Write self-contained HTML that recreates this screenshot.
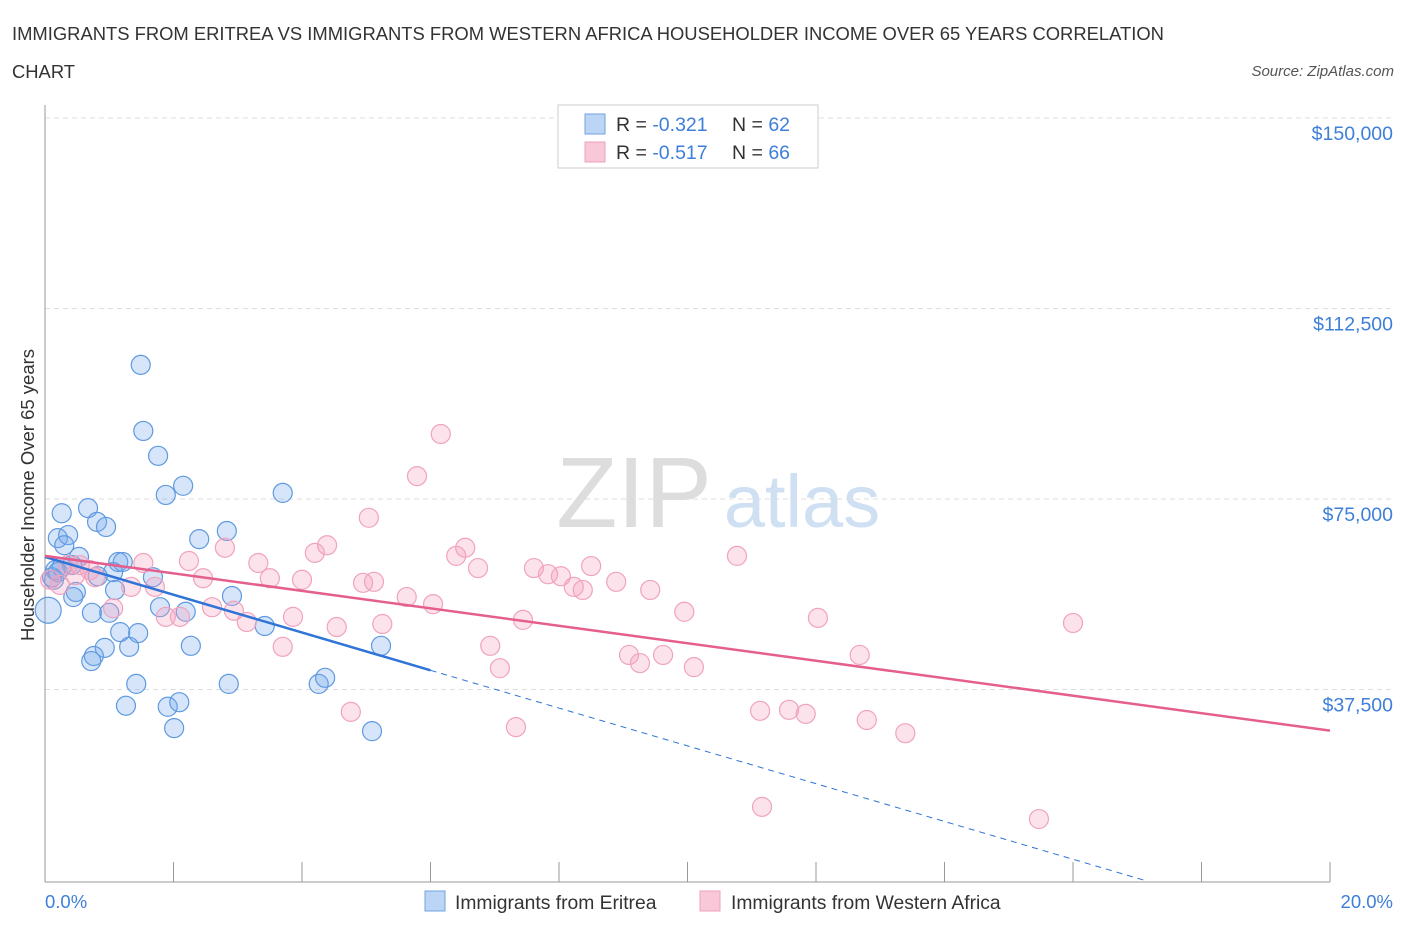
<!DOCTYPE html>
<html><head><meta charset="utf-8"><style>
body{margin:0;background:#fff;font-family:"Liberation Sans",sans-serif;}
svg text{font-family:"Liberation Sans",sans-serif;}
</style></head><body>
<svg id="chart" width="1406" height="930" xmlns="http://www.w3.org/2000/svg">
<text x="12" y="40" font-size="18.4" fill="#333">IMMIGRANTS FROM ERITREA VS IMMIGRANTS FROM WESTERN AFRICA HOUSEHOLDER INCOME OVER 65 YEARS CORRELATION</text>
<text x="12" y="78" font-size="18.4" fill="#333">CHART</text>
<text x="1394" y="76" font-size="15" fill="#555" font-style="italic" text-anchor="end">Source: ZipAtlas.com</text>
<text x="634" y="527" font-size="100" fill="#ddd" font-family="Liberation Serif" text-anchor="middle">ZIP</text>
<text x="802" y="527" font-size="74" fill="#cfe0f3" text-anchor="middle">atlas</text>
<text transform="translate(34,495) rotate(-90)" font-size="18.5" fill="#333" text-anchor="middle">Householder Income Over 65 years</text>
<g id="grid"></g><g id="axes"></g><g id="pts"></g><g id="lines"></g>
<rect x="558" y="105" width="260" height="63" fill="#fff" stroke="#ccc"/>
<rect x="585" y="114" width="20" height="20" fill="#bcd5f5" stroke="#6fa3e0"/>
<rect x="585" y="142" width="20" height="20" fill="#f9c8d8" stroke="#eea0ba"/>
<text x="616" y="131" font-size="19.5" fill="#333">R = <tspan fill="#3d7fd9">-0.321</tspan></text>
<text x="732" y="131" font-size="19.5" fill="#333">N = <tspan fill="#3d7fd9">62</tspan></text>
<text x="616" y="159" font-size="19.5" fill="#333">R = <tspan fill="#3d7fd9">-0.517</tspan></text>
<text x="732" y="159" font-size="19.5" fill="#333">N = <tspan fill="#3d7fd9">66</tspan></text>
<text x="45" y="908" font-size="18.5" fill="#3d7fd9">0.0%</text>
<text x="1393" y="908" font-size="18.5" fill="#3d7fd9" text-anchor="end">20.0%</text>
<rect x="425" y="891" width="20" height="20" fill="#bcd5f5" stroke="#6fa3e0"/>
<text x="455" y="909" font-size="19.3" fill="#333">Immigrants from Eritrea</text>
<rect x="700" y="891" width="20" height="20" fill="#f9c8d8" stroke="#eea0ba"/>
<text x="731" y="909" font-size="19.3" fill="#333">Immigrants from Western Africa</text>
</svg>
<script>
const yTicks=[37500,75000,112500,150000];
const yTickLabels=["$37,500","$75,000","$112,500","$150,000"];
const xTicks=[0,2,4,6,8,10,12,14,16,18,20];
const eritreaX=[1.49,1.53,1.76,1.88,2.15,3.70,0.26,0.67,0.81,0.95,2.83,2.40,0.20,0.36,0.30,0.53,1.14,1.21,1.06,0.42,0.16,0.11,0.82,1.68,1.09,0.48,0.44,2.91,1.79,2.19,0.73,1.00,0.05,1.17,1.45,3.42,1.31,0.93,2.27,5.23,0.76,0.72,1.42,2.86,4.26,4.36,1.26,1.91,2.09,2.01,5.09,0.14,0.20,0.26];
const eritreaY=[101.4,88.4,83.5,75.8,77.6,76.2,72.2,73.2,70.5,69.5,68.7,67.1,67.3,67.9,65.9,63.6,62.6,62.6,60.6,62.0,61.0,59.6,59.8,59.6,57.1,56.7,55.7,55.9,53.7,52.8,52.6,52.6,53.1,48.8,48.6,50.0,45.9,45.7,46.1,46.1,44.1,43.1,38.6,38.6,38.6,39.8,34.3,34.1,35.0,29.9,29.3,59.1,60.6,61.6];
const waX=[6.16,5.79,5.04,4.39,4.20,6.54,6.40,10.77,6.74,7.61,7.83,8.03,8.50,8.23,8.37,8.89,9.42,1.53,2.24,2.80,3.32,2.46,3.50,4.00,4.95,5.12,5.63,6.04,0.36,0.54,0.78,1.34,1.71,1.06,2.60,3.86,2.94,3.14,1.88,2.10,4.54,5.25,7.44,9.95,12.03,16.0,6.93,7.08,3.70,9.09,9.62,9.26,10.10,12.68,4.76,7.33,11.13,11.58,11.84,12.79,13.39,11.16,15.47,0.23,0.47,0.70,0.08];
const waY=[87.8,79.5,71.3,65.9,64.4,65.4,63.8,63.8,61.4,61.4,60.2,59.8,61.8,57.7,57.1,58.7,57.1,62.4,62.8,65.4,62.4,59.4,59.4,59.1,58.5,58.7,55.7,54.3,62.0,62.0,59.6,57.7,57.7,53.5,53.7,51.8,53.0,50.8,51.8,51.8,49.8,50.4,51.2,52.8,51.6,50.6,46.1,41.7,45.9,44.3,44.3,42.7,41.9,44.3,33.1,30.1,33.3,33.5,32.7,31.5,28.9,14.4,12.0,58.1,60.0,61.0,59.1];
const eritreaTrend=[63.6,-3.72];
const waTrend=[63.8,-1.72];
const NS="http://www.w3.org/2000/svg";
const sx=v=>45+v*64.25;
const sy=v=>880-v*1000/196.85;
function mk(tag,attrs,parent){const e=document.createElementNS(NS,tag);for(const k in attrs)e.setAttribute(k,attrs[k]);document.getElementById(parent).appendChild(e);return e;}
yTicks.forEach((t,i)=>{
 const l=mk('line',{x1:45,x2:1394,y1:sy(t/1000),y2:sy(t/1000),stroke:'#ddd','stroke-dasharray':'5,4'},'grid');
 
 
 const tx=mk('text',{x:1393,y:sy(t/1000)+22,'font-size':19.5,fill:'#3d7fd9','text-anchor':'end'},'grid');
 tx.textContent=yTickLabels[i];
 
 
});
const ax=mk('line',{x1:45,x2:45,y1:105,y2:882,stroke:'#999'},'axes');


const bx=mk('line',{x1:45,x2:1330,y1:882,y2:882,stroke:'#999'},'axes');


xTicks.forEach(t=>{
 const l=mk('line',{x1:sx(t),x2:sx(t),y1:862,y2:882,stroke:'#999'},'axes');
 
 
});
eritreaX.forEach((x,i)=>{
 const c=mk('circle',{cx:sx(x),cy:sy(eritreaY[i]),r:i==32?13:9.5,fill:'rgba(120,170,235,0.3)',stroke:'#5f9ae0','stroke-width':1.2},'pts');
 
 
});
waX.forEach((x,i)=>{
 const c=mk('circle',{cx:sx(x),cy:sy(waY[i]),r:9.5,fill:'rgba(245,160,190,0.3)',stroke:'#f0a3bd','stroke-width':1.2},'pts');
 
 
});
const f1=x=>eritreaTrend[0]+eritreaTrend[1]*x, f2=x=>waTrend[0]+waTrend[1]*x;
const b1=mk('line',{x1:sx(0),y1:sy(f1(0)),x2:sx(6),y2:sy(f1(6)),stroke:'#2f74d6','stroke-width':2.5},'lines');


const xe=(0-eritreaTrend[0])/eritreaTrend[1];
const b2=mk('line',{x1:sx(6),y1:sy(f1(6)),x2:sx(xe),y2:sy(0),stroke:'#2f74d6','stroke-width':1,'stroke-dasharray':'6,5'},'lines');


const p1=mk('line',{x1:sx(0),y1:sy(f2(0)),x2:sx(20),y2:sy(f2(20)),stroke:'#e55f8e','stroke-width':2.5},'lines');


</script>
</body></html>
